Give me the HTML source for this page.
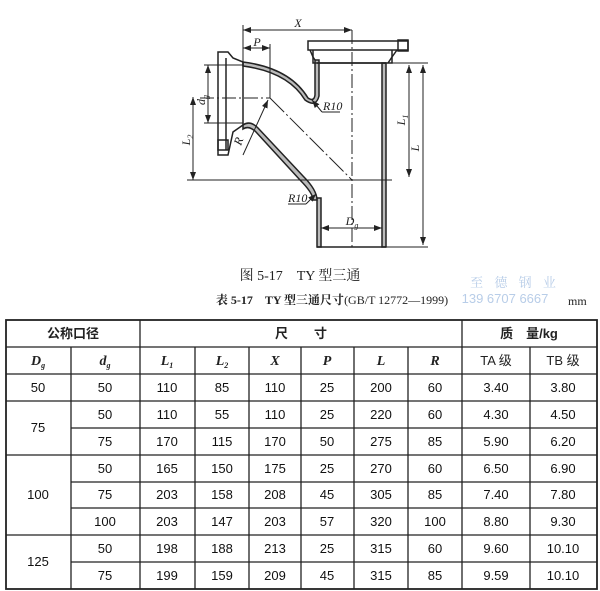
<!DOCTYPE html>
<html><head><meta charset="utf-8"><style>
html,body{margin:0;padding:0;background:#fff;}
svg{display:block;}
text{font-family:"Liberation Serif","Noto Serif CJK SC",serif;fill:#222;}
.n{font-family:"Liberation Sans","Noto Sans CJK SC",sans-serif;font-size:13px;text-anchor:middle;fill:#111;}
.c{font-family:"Liberation Sans","Noto Sans CJK SC",sans-serif;font-size:13px;text-anchor:middle;font-weight:bold;}
.i{font-style:italic;font-size:14px;text-anchor:middle;font-weight:bold;}
</style></head><body>
<svg width="600" height="591" viewBox="0 0 600 591" xmlns="http://www.w3.org/2000/svg">
<defs>
<marker id="a" markerWidth="8" markerHeight="6" refX="8" refY="3" orient="auto-start-reverse" markerUnits="userSpaceOnUse"><path d="M0,0 L8,3 L0,6 z" fill="#222"/></marker>
</defs>
<g stroke="#222" fill="none" stroke-width="1.5">
<!-- walls filled -->
<rect x="382" y="63" width="4" height="184" fill="#bbb"/>
<rect x="317" y="198" width="4" height="49" fill="#bbb"/>
<line x1="317" y1="247" x2="386" y2="247"/>
<path d="M243,125 Q250,120 258,128 L303,176 Q317,190 317,200 L313,200 Q313,193 300,180 L256,132 Q249,125 243,129 Z" fill="#bbb"/>
<path d="M243,62 Q290,68 308,98 Q314,102 315,95 L315,60 L319,60 L319,96 Q316,108 305,100 Q288,72 243,66 Z" fill="#bbb"/>
<!-- top socket -->
<path d="M308,41 L408,41 L408,50 L308,50 Z"/>
<path d="M313,50 L313,63 L392,63 L392,50"/>
<path d="M317,63 L386,63"/>
<path d="M310,50 L313,57 L315,60 M397,50 L392,57 L388,63"/>
<rect x="398" y="40" width="10" height="11"/>
<!-- left socket -->
<path d="M218,52 L228,52 L233,58 L243,62 L243,125 L233,132 L228,155 L218,155 Z"/>
<path d="M226,58 L226,150"/>
<rect x="218" y="140" width="10" height="10"/>
<!-- center lines -->
<line x1="352" y1="30" x2="352" y2="250" stroke-dasharray="14,3,2,3" stroke-width="1"/>
<line x1="187" y1="180" x2="392" y2="180" stroke-width="1"/>
<line x1="200" y1="98" x2="270" y2="98" stroke-dasharray="14,3,2,3" stroke-width="1"/>
<line x1="270" y1="98" x2="352" y2="180" stroke-dasharray="20,3,2,3" stroke-width="1"/>
<!-- dimension lines -->
<line x1="243" y1="25" x2="243" y2="62" stroke-width="1"/>
<line x1="243" y1="30" x2="352" y2="30" stroke-width="1" marker-start="url(#a)" marker-end="url(#a)"/>
<line x1="270" y1="44" x2="270" y2="98" stroke-width="1"/>
<line x1="243" y1="48" x2="270" y2="48" stroke-width="1" marker-start="url(#a)" marker-end="url(#a)"/>
<line x1="204" y1="65" x2="243" y2="65" stroke-width="1"/>
<line x1="204" y1="123" x2="243" y2="123" stroke-width="1"/>
<line x1="208" y1="65" x2="208" y2="123" stroke-width="1" marker-start="url(#a)" marker-end="url(#a)"/>
<line x1="193" y1="97" x2="193" y2="180" stroke-width="1" marker-start="url(#a)" marker-end="url(#a)"/>
<line x1="386" y1="63" x2="428" y2="63" stroke-width="1"/>
<line x1="386" y1="247" x2="428" y2="247" stroke-width="1"/>
<line x1="409" y1="65" x2="409" y2="177" stroke-width="1" marker-start="url(#a)" marker-end="url(#a)"/>
<line x1="423" y1="65" x2="423" y2="245" stroke-width="1" marker-start="url(#a)" marker-end="url(#a)"/>
<line x1="321" y1="228" x2="382" y2="228" stroke-width="1" marker-start="url(#a)" marker-end="url(#a)"/>
<line x1="243" y1="155" x2="268" y2="100" stroke-width="1" marker-end="url(#a)"/>
<line x1="322" y1="112" x2="340" y2="112" stroke-width="1"/>
<line x1="322" y1="112" x2="312" y2="100" stroke-width="1" marker-end="url(#a)"/>
<line x1="288" y1="204" x2="306" y2="204" stroke-width="1"/>
<line x1="306" y1="204" x2="316" y2="194" stroke-width="1" marker-end="url(#a)"/>
</g>
<g style="font-style:italic;font-size:12px">
<text x="298" y="27" text-anchor="middle">X</text>
<text x="257" y="46" text-anchor="middle">P</text>
<text x="323" y="110">R10</text>
<text x="288" y="202">R10</text>
<text x="352" y="225" text-anchor="middle">D<tspan font-size="8" dy="3">g</tspan></text>
<text x="241" y="146" transform="rotate(-70 241 146)">R</text>
<text transform="translate(205,100) rotate(-90)" text-anchor="middle">d<tspan font-size="8" dy="3">g</tspan></text>
<text transform="translate(190,140) rotate(-90)" text-anchor="middle">L<tspan font-size="8" dy="3">2</tspan></text>
<text transform="translate(405,120) rotate(-90)" text-anchor="middle">L<tspan font-size="8" dy="3">1</tspan></text>
<text transform="translate(419,148) rotate(-90)" text-anchor="middle">L</text>
</g>
<!-- captions -->
<text x="300" y="280" text-anchor="middle" style="font-size:14px">图 5-17　TY 型三通</text>
<text x="332" y="304" text-anchor="middle" style="font-size:12px;font-weight:bold">表 5-17　TY 型三通尺寸<tspan font-weight="normal">(GB/T 12772—1999)</tspan></text>
<text x="568" y="305" style="font-size:12px">mm</text>
<text x="515" y="287" text-anchor="middle" style="font-size:13px;fill:#b8cde8;letter-spacing:4px">至 德 钢 业</text>
<text x="505" y="303" text-anchor="middle" style="font-family:'Liberation Sans',sans-serif;font-size:13px;fill:#b8cde8">139 6707 6667</text>
<!-- table -->
<g stroke="#222" stroke-width="1.3" fill="none">
<rect x="6" y="320" width="591" height="269" stroke-width="1.8"/>
<line x1="6" y1="347" x2="597" y2="347"/>
<line x1="6" y1="374" x2="597" y2="374"/>
<line x1="6" y1="401" x2="597" y2="401"/>
<line x1="71" y1="428" x2="597" y2="428"/>
<line x1="6" y1="455" x2="597" y2="455"/>
<line x1="71" y1="482" x2="597" y2="482"/>
<line x1="71" y1="508" x2="597" y2="508"/>
<line x1="6" y1="535" x2="597" y2="535"/>
<line x1="71" y1="562" x2="597" y2="562"/>
<line x1="71" y1="347" x2="71" y2="589"/>
<line x1="140" y1="320" x2="140" y2="589"/>
<line x1="195" y1="347" x2="195" y2="589"/>
<line x1="249" y1="347" x2="249" y2="589"/>
<line x1="301" y1="347" x2="301" y2="589"/>
<line x1="354" y1="347" x2="354" y2="589"/>
<line x1="408" y1="347" x2="408" y2="589"/>
<line x1="462" y1="320" x2="462" y2="589"/>
<line x1="530" y1="347" x2="530" y2="589"/>
</g>
<text class="c" x="73" y="338">公称口径</text>
<text class="c" x="301" y="338">尺　　寸</text>
<text class="c" x="529" y="338">质　量/kg</text>
<text class="i" x="38" y="365">D<tspan font-size="8" dy="3">g</tspan></text>
<text class="i" x="105" y="365">d<tspan font-size="8" dy="3">g</tspan></text>
<text class="i" x="167" y="365">L<tspan font-size="8" dy="3">1</tspan></text>
<text class="i" x="222" y="365">L<tspan font-size="8" dy="3">2</tspan></text>
<text class="i" x="275" y="365">X</text>
<text class="i" x="327" y="365">P</text>
<text class="i" x="381" y="365">L</text>
<text class="i" x="435" y="365">R</text>
<text class="c" x="496" y="365" style="font-weight:normal">TA 级</text>
<text class="c" x="563" y="365" style="font-weight:normal">TB 级</text>
<text class="n" x="38" y="392">50</text>
<text class="n" x="38" y="432">75</text>
<text class="n" x="38" y="499">100</text>
<text class="n" x="38" y="566">125</text>
<text class="n" y="392"><tspan x="105">50</tspan><tspan x="167">110</tspan><tspan x="222">85</tspan><tspan x="275">110</tspan><tspan x="327">25</tspan><tspan x="381">200</tspan><tspan x="435">60</tspan><tspan x="496">3.40</tspan><tspan x="563">3.80</tspan></text>
<text class="n" y="419"><tspan x="105">50</tspan><tspan x="167">110</tspan><tspan x="222">55</tspan><tspan x="275">110</tspan><tspan x="327">25</tspan><tspan x="381">220</tspan><tspan x="435">60</tspan><tspan x="496">4.30</tspan><tspan x="563">4.50</tspan></text>
<text class="n" y="446"><tspan x="105">75</tspan><tspan x="167">170</tspan><tspan x="222">115</tspan><tspan x="275">170</tspan><tspan x="327">50</tspan><tspan x="381">275</tspan><tspan x="435">85</tspan><tspan x="496">5.90</tspan><tspan x="563">6.20</tspan></text>
<text class="n" y="473"><tspan x="105">50</tspan><tspan x="167">165</tspan><tspan x="222">150</tspan><tspan x="275">175</tspan><tspan x="327">25</tspan><tspan x="381">270</tspan><tspan x="435">60</tspan><tspan x="496">6.50</tspan><tspan x="563">6.90</tspan></text>
<text class="n" y="499"><tspan x="105">75</tspan><tspan x="167">203</tspan><tspan x="222">158</tspan><tspan x="275">208</tspan><tspan x="327">45</tspan><tspan x="381">305</tspan><tspan x="435">85</tspan><tspan x="496">7.40</tspan><tspan x="563">7.80</tspan></text>
<text class="n" y="526"><tspan x="105">100</tspan><tspan x="167">203</tspan><tspan x="222">147</tspan><tspan x="275">203</tspan><tspan x="327">57</tspan><tspan x="381">320</tspan><tspan x="435">100</tspan><tspan x="496">8.80</tspan><tspan x="563">9.30</tspan></text>
<text class="n" y="553"><tspan x="105">50</tspan><tspan x="167">198</tspan><tspan x="222">188</tspan><tspan x="275">213</tspan><tspan x="327">25</tspan><tspan x="381">315</tspan><tspan x="435">60</tspan><tspan x="496">9.60</tspan><tspan x="563">10.10</tspan></text>
<text class="n" y="580"><tspan x="105">75</tspan><tspan x="167">199</tspan><tspan x="222">159</tspan><tspan x="275">209</tspan><tspan x="327">45</tspan><tspan x="381">315</tspan><tspan x="435">85</tspan><tspan x="496">9.59</tspan><tspan x="563">10.10</tspan></text>
</svg>
</body></html>
